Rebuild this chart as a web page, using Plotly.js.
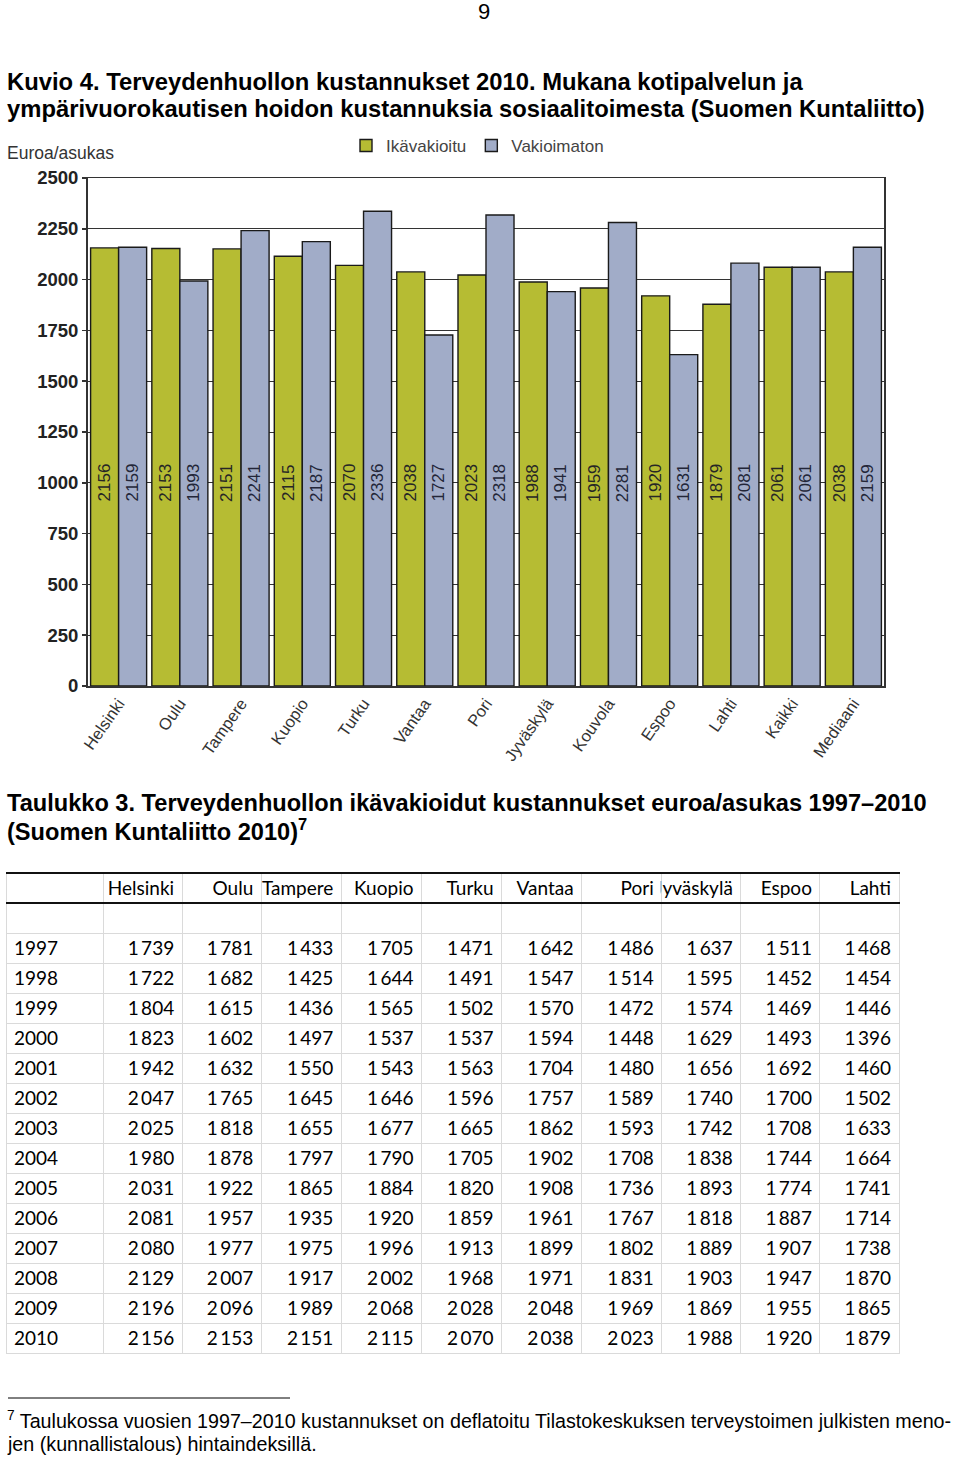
<!DOCTYPE html>
<html>
<head>
<meta charset="utf-8">
<script src="https://cdn.plot.ly/plotly-3.0.1.min.js"></script>
<style>
html,body{margin:0;padding:0;background:#fff;}
#page{width:960px;height:1458px;}
</style>
</head>
<body>
<div id="page"></div>
<script>
// ---- Chart data ----
var categories = ['Helsinki','Oulu','Tampere','Kuopio','Turku','Vantaa','Pori','Jyväskylä','Kouvola','Espoo','Lahti','Kaikki','Mediaani'];
var ikavakioitu = [2156,2153,2151,2115,2070,2038,2023,1988,1959,1920,1879,2061,2038];
var vakioimaton = [2159,1993,2241,2187,2336,1727,2318,1941,2281,1631,2081,2061,2159];
var yTickVals = [0,250,500,750,1000,1250,1500,1750,2000,2250,2500];

// ---- Table data ----
var tableCities = ['Helsinki','Oulu','Tampere','Kuopio','Turku','Vantaa','Pori','Jyväskylä','Espoo','Lahti'];
var years = [1997,1998,1999,2000,2001,2002,2003,2004,2005,2006,2007,2008,2009,2010];
var helsinki = [1739,1722,1804,1823,1942,2047,2025,1980,2031,2081,2080,2129,2196,2156];
var oulu     = [1781,1682,1615,1602,1632,1765,1818,1878,1922,1957,1977,2007,2096,2153];
var tampere  = [1433,1425,1436,1497,1550,1645,1655,1797,1865,1935,1975,1917,1989,2151];
var kuopio   = [1705,1644,1565,1537,1543,1646,1677,1790,1884,1920,1996,2002,2068,2115];
var turku    = [1471,1491,1502,1537,1563,1596,1665,1705,1820,1859,1913,1968,2028,2070];
var vantaa   = [1642,1547,1570,1594,1704,1757,1862,1902,1908,1961,1899,1971,2048,2038];
var pori     = [1486,1514,1472,1448,1480,1589,1593,1708,1736,1767,1802,1831,1969,2023];
var jyvaskyla= [1637,1595,1574,1629,1656,1740,1742,1838,1893,1818,1889,1903,1869,1988];
var espoo    = [1511,1452,1469,1493,1692,1700,1708,1744,1774,1887,1907,1947,1955,1920];
var lahti    = [1468,1454,1446,1396,1460,1502,1633,1664,1741,1714,1738,1870,1865,1879];

// ---- Helpers ----
var W = 960, H = 1458;
function px(x){ return x / W; }
function py(y){ return 1 - y / H; }
function fmt(n){ var s = String(n); return s.length > 3 ? s.slice(0, s.length-3) + '\u2009' + s.slice(s.length-3) : s; }

var ARIAL = 'Liberation Sans, Arial, sans-serif';
var CALIBRI = 'Lato, Carlito, Calibri, sans-serif';

var green = '#b6bc33';
var blue = '#a1acc8';

var traces = [
  {
    type: 'bar', name: 'Ikävakioitu', x: categories, y: ikavakioitu,
    marker: {color: green, line: {color: '#1a1a1a', width: 1.4}},
    xaxis: 'x', yaxis: 'y', hoverinfo: 'skip'
  },
  {
    type: 'bar', name: 'Vakioimaton', x: categories, y: vakioimaton,
    marker: {color: blue, line: {color: '#1a1a1a', width: 1.4}},
    xaxis: 'x', yaxis: 'y', hoverinfo: 'skip'
  }
];

// Table
var colVals = [helsinki, oulu, tampere, kuopio, turku, vantaa, pori, jyvaskyla, espoo, lahti];
var cellValues = [[''].concat(years.map(String))];
colVals.forEach(function(c){ cellValues.push([''].concat(c.map(fmt))); });
traces.push({
  type: 'table',
  domain: {x: [px(6), px(899)], y: [py(1354), py(873)]},
  columnwidth: [97,79,79,80,80,80,80,80,79,79,79],
  header: {
    values: [''].concat(tableCities),
    align: ['left'].concat(tableCities.map(function(){return 'right';})),
    height: 30,
    font: {family: CALIBRI, size: 19, color: '#000'},
    fill: {color: '#fff'},
    line: {color: '#dadada', width: 1}
  },
  cells: {
    values: cellValues,
    align: ['left'].concat(tableCities.map(function(){return 'right';})),
    height: 30,
    font: {family: CALIBRI, size: 19, color: '#000'},
    fill: {color: '#fff'},
    line: {color: '#dadada', width: 1}
  }
});

// Bar value labels
var annotations = [];
categories.forEach(function(c, i){
  annotations.push({x: c, y: 1000, xref: 'x', yref: 'y', text: String(ikavakioitu[i]),
    textangle: -90, showarrow: false, xshift: -14, font: {family: ARIAL, size: 17, color: '#262626'}});
  annotations.push({x: c, y: 1000, xref: 'x', yref: 'y', text: String(vakioimaton[i]),
    textangle: -90, showarrow: false, xshift: 14, font: {family: ARIAL, size: 17, color: '#232638'}});
});

function txt(text, x, y, font, xanchor){
  annotations.push({xref: 'paper', yref: 'paper', x: px(x), y: py(y), text: text,
    xanchor: xanchor || 'left', yanchor: 'middle', showarrow: false, font: font, align: 'left'});
}
txt('9', 484, 12, {family: ARIAL, size: 22, color: '#000'}, 'center');
txt('Kuvio 4. Terveydenhuollon kustannukset 2010. Mukana kotipalvelun ja', 5, 81, {family: ARIAL, size: 23.8, color: '#000', weight: 700});
txt('ympärivuorokautisen hoidon kustannuksia sosiaalitoimesta (Suomen Kuntaliitto)', 5, 109, {family: ARIAL, size: 23.8, color: '#000', weight: 700});
txt('Euroa/asukas', 5, 153, {family: ARIAL, size: 17.5, color: '#333'});
txt('Taulukko 3. Terveydenhuollon ikävakioidut kustannukset euroa/asukas 1997–2010', 5, 803, {family: ARIAL, size: 23.6, color: '#000', weight: 700});
txt('(Suomen Kuntaliitto 2010)<sup>7</sup>', 5, 830, {family: ARIAL, size: 23.6, color: '#000', weight: 700});
txt('<sup>7</sup> Taulukossa vuosien 1997–2010 kustannukset on deflatoitu Tilastokeskuksen terveystoimen julkisten meno-', 5, 1420, {family: ARIAL, size: 19.7, color: '#000'});
txt('jen (kunnallistalous) hintaindeksillä.', 5, 1444, {family: ARIAL, size: 19.7, color: '#000'});

var shapes = [
  {type: 'line', xref: 'paper', yref: 'paper', x0: px(8), x1: px(290), y0: py(1398), y1: py(1398), line: {color: '#000', width: 1}},
  {type: 'line', xref: 'paper', yref: 'paper', x0: px(6), x1: px(900), y0: py(873), y1: py(873), line: {color: '#111', width: 2}},
  {type: 'line', xref: 'paper', yref: 'paper', x0: px(6), x1: px(900), y0: py(903), y1: py(903), line: {color: '#111', width: 2}}
];

var layout = {
  width: W, height: H,
  margin: {l: 0, r: 0, t: 0, b: 0},
  paper_bgcolor: '#fff', plot_bgcolor: '#fff',
  barmode: 'group', bargap: 0.085, bargroupgap: 0,
  showlegend: true,
  legend: {orientation: 'h', x: px(346), y: py(128), xanchor: 'left', yanchor: 'top',
    font: {family: ARIAL, size: 17, color: '#444'}, bgcolor: 'rgba(0,0,0,0)'},
  xaxis: {
    domain: [px(88), px(884)], anchor: 'y',
    showline: true, linecolor: '#333', linewidth: 1.5, mirror: true,
    ticks: '', tickangle: -55, showgrid: false,
    tickfont: {family: ARIAL, size: 16.5, color: '#333'}
  },
  yaxis: {
    domain: [py(686), py(178)], anchor: 'x',
    range: [0, 2500], tickvals: yTickVals, ticktext: yTickVals.map(String),
    showline: true, linecolor: '#333', linewidth: 2, mirror: true,
    ticks: 'outside', ticklen: 4, tickcolor: '#333', tickwidth: 1.5,
    showgrid: true, gridcolor: '#333', gridwidth: 1, zeroline: false,
    tickfont: {family: ARIAL, size: 18.5, color: '#222', weight: 700}
  },
  annotations: annotations,
  shapes: shapes
};

Plotly.newPlot('page', traces, layout, {staticPlot: true, displayModeBar: false});
</script>
</body>
</html>
